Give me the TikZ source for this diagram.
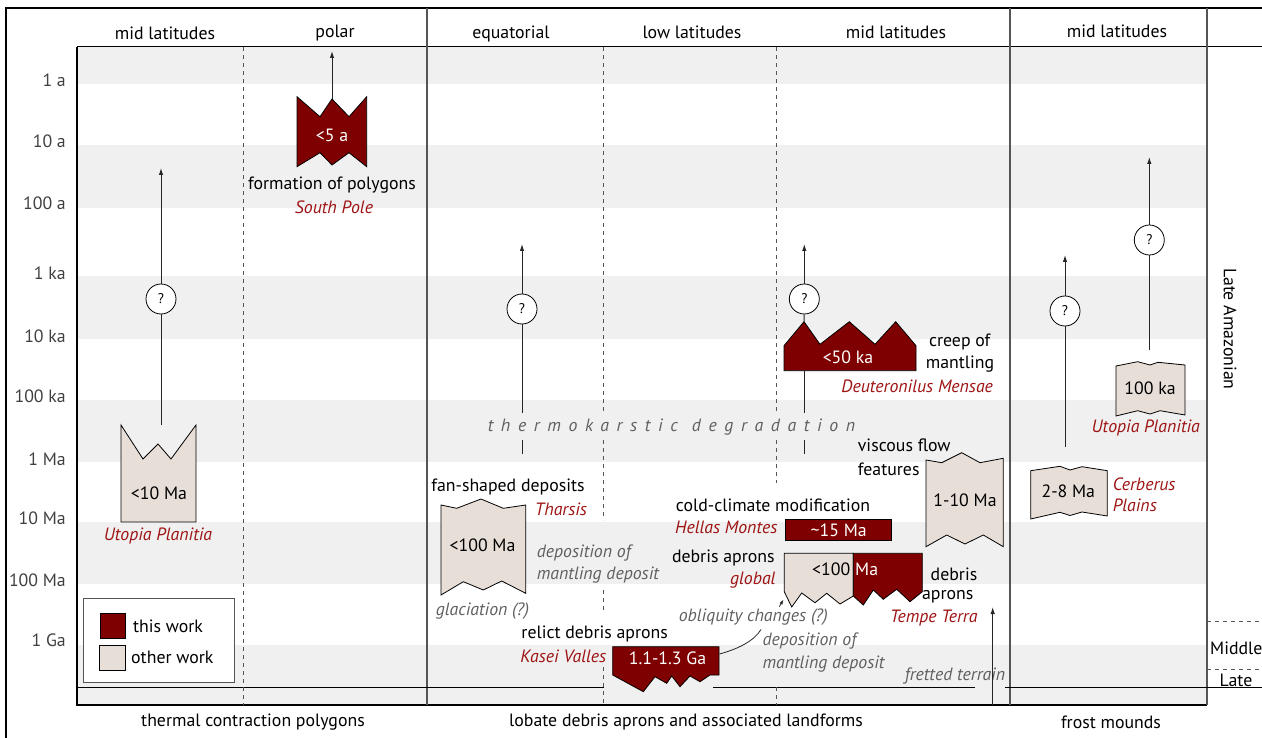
\documentclass[tikz,border=0pt]{standalone}
\usepackage{fontspec}
\setmainfont{PT Sans}
\usetikzlibrary{arrows.meta}
\definecolor{dred}{HTML}{7F0000}
\definecolor{beige}{HTML}{E8DED8}
\definecolor{band}{HTML}{F0F0F0}
\definecolor{lred}{HTML}{9E1414}
\definecolor{gtxt}{HTML}{606060}
\definecolor{atxt}{HTML}{404040}
\definecolor{divc}{HTML}{555555}
\begin{document}
\begin{tikzpicture}[x=1pt,y=-1pt,
  every node/.style={inner sep=0pt, font=\fontsize{17.8}{20}\selectfont},
  loc/.style={text=lred, font=\fontsize{17.8}{20}\selectfont\itshape},
  note/.style={text=gtxt, font=\fontsize{17.8}{20}\selectfont\itshape},
  axl/.style={text=atxt, anchor=east},
  frameline/.style={line width=1.1pt, draw=black},
  divline/.style={line width=1.1pt, draw=divc},
  dashdiv/.style={line width=0.8pt, draw=divc, dash pattern=on 4pt off 4pt},
  thiswork/.style={fill=dred, draw=black, line width=0.8pt},
  otherwork/.style={fill=beige, draw=black, line width=0.8pt},
  wt/.style={text=white},
  arr/.style={draw=black!85, line width=1pt, -{Latex[length=7pt,width=4.5pt]}},
  smallarr/.style={draw=black!85, line width=0.8pt, -{Latex[length=5pt,width=3.5pt]}},
  stem/.style={draw=black!85, line width=1pt},
  qc/.style={circle, draw=black, fill=white, line width=0.8pt, minimum size=30pt, font=\fontsize{14}{16}\selectfont},
]
\useasboundingbox (0,0) rectangle (1262,738);

% bands
\foreach \a/\b in {47/84,145/208,276/339,400/462,522/584,645/705}
  \fill[band] (77,\a) rectangle (1207,\b);

% frame
\draw[frameline] (6,738) -- (6,8) -- (1262,8);
\draw[frameline] (77,46.7) -- (1262,46.7);
\draw[frameline] (77,46.7) -- (77,705) -- (1207,705);
\draw[divline] (427,8) -- (427,705);
\draw[divline] (1010,8) -- (1010,705);
\draw[divline] (1207,8) -- (1207,705);
\draw[frameline, line width=1pt] (77,687.5) -- (604,687.5) (713,687.5) -- (975,687.5) (1005,687.5) -- (1262,687.5);

% dashed dividers
\draw[dashdiv] (243,47) -- (243,705);
\draw[dashdiv] (603.3,47) -- (603.3,413) (603.3,440) -- (603.3,520) (603.3,590) -- (603.3,613) (603.3,667) -- (603.3,705);
\draw[dashdiv] (776,47) -- (776,413) (776,440) -- (776,483) (776,687) -- (776,705);
\draw[dashdiv] (1207,621) -- (1262,621) (1207,669.5) -- (1262,669.5);

% right side labels
\node[anchor=west] (middle) at (1210,648) {Middle};
\node (late) at (1236,680) {Late};
\node[rotate=-90] (lateam) at (1230,329) {Late Amazonian};

% headers
\node (h1) at (165,33) {mid latitudes};
\node (h2) at (335,33) {polar};
\node (h3) at (511,34) {equatorial};
\node (h4) at (692,32) {low latitudes};
\node (h5) at (896,32) {mid latitudes};
\node (h6) at (1117,31) {mid latitudes};

% footers
\node (f1) at (253,722) {thermal contraction polygons};
\node (f2) at (686,722) {lobate debris aprons and associated landforms};
\node (f3) at (1111,722) {frost mounds};

% axis labels
\foreach \t/\y [count=\i] in {1 a/80,10 a/141,100 a/203,1 ka/273,10 ka/336,100 ka/396,1 Ma/459,10 Ma/518,100 Ma/580,1 Ga/640}
  \node[axl] (ax\i) at (66,\y) {\t};

% legend
\draw[divline, line width=0.9pt, fill=white] (83,598) rectangle (234,682);
\path[thiswork] (100,613) rectangle (125,638);
\path[otherwork] (99,645) rectangle (125,670);
\node[anchor=west] (legthis) at (133,626) {this work};
\node[anchor=west] (legother) at (131,657) {other work};

% ---- column 1: thermal contraction polygons, mid latitudes
\path[otherwork] (121,425) -- (143,459) -- (158,444) -- (171,459) -- (196,425) -- (196,522) -- (121,522) -- cycle;
\node (s1) at (159,493) {<10 Ma};
\coordinate (s1top) at (161,425);
\node[qc] (q1) at (161,299) {?};
\coordinate (t1) at (161,168);
\draw[stem] (s1top) -- (q1);
\draw[arr] (q1) -- (t1);
\node[loc] (l1) at (158,536) {Utopia Planitia};

% ---- column 2: polar
\path[thiswork] (297,96.7) -- (320,116.7) -- (332,99) -- (349,116.7) -- (366.7,96.7) -- (366.7,166.7) -- (349,152.7) -- (332,165) -- (320,152.7) -- (297,166.7) -- cycle;
\node[wt] (s2) at (332,135) {<5 a};
\coordinate (s2top) at (332,99);
\coordinate (t2) at (332,51);
\draw[arr] (s2top) -- (t2);
\node (d2) at (332,185) {formation of polygons};
\node[loc] (l2) at (334,207) {South Pole};

% ---- thermokarstic degradation
\node[note] (thermo) at (671.5,427) {\addfontfeatures{LetterSpace=43}thermokarstic\hspace{14pt}degradation};

% ---- column 3: equatorial
\coordinate (b3lo) at (522,454);
\coordinate (b3mi) at (522,440);
\coordinate (b3up) at (522,413);
\node[qc] (q3) at (522,309) {?};
\coordinate (t3) at (522,244);
\draw[stem] (b3lo) -- (b3mi);
\draw[stem] (b3up) -- (q3);
\draw[arr] (q3) -- (t3);

\node (d3) at (508,487) {fan-shaped deposits};
\node[loc] (l3) at (561,509) {Tharsis};
\path[otherwork] (441,505) -- (456.7,508.3) -- (481,499) -- (503.3,508.3) -- (525.7,505) -- (525.7,593.3) -- (501.7,581) -- (483.3,590) -- (463.3,581.7) -- (441,595) -- cycle;
\node (s3) at (482.5,545) {<100 Ma};
\node[note] (g3) at (482.5,611) {glaciation (?)};
\node[note, anchor=west] (dep3a) at (536.7,553) {deposition of};
\node[note, anchor=west] (dep3b) at (536.7,575) {mantling deposit};

% relict debris aprons
\node (d7) at (594.7,634) {relict debris aprons};
\node[loc] (l7) at (563.3,656.5) {Kasei Valles};
\path[thiswork] (612.7,646.7) -- (719,646.7) -- (719,675) -- (710,675) -- (700,681.7) -- (690,676) -- (680,686.7) -- (671.7,676) -- (666.7,683.3) -- (655,676.7) -- (643.3,691.7) -- (612.7,675) -- cycle;
\node[wt] (s7) at (667.5,658.5) {1.1-1.3 Ga};
\coordinate (s7r) at (719.5,654);

% ---- column 5: mid latitudes (lobate)
\node (d6) at (773,505.5) {cold-climate modification};
\node[loc] (l6) at (726.3,527.3) {Hellas Montes};
\path[thiswork] (785.7,519) rectangle (891.7,540);
\node[wt] (s6) at (838.7,530) {\textasciitilde15 Ma};

\node (d8) at (723.3,558.3) {debris aprons};
\node[loc, anchor=east] (l8) at (775.7,580.5) {global};
\path[otherwork] (784.3,553.3) -- (853.3,553.3) -- (853.3,596) -- (840,604) -- (826.7,593.3) -- (815,602.7) -- (801.7,593) -- (791.7,607) -- (784.3,591.7) -- cycle;
\path[thiswork] (853.3,553.3) -- (922.3,553.3) -- (922.3,591.7) -- (910,601.7) -- (896.7,589.3) -- (883.3,599.3) -- (873.3,590) -- (863.3,605) -- (853.3,596) -- cycle;
\node[anchor=east] (s8a) at (850.5,569) {<100};
\node[wt, anchor=west] (s8b) at (855,569) {Ma};
\coordinate (s8c) at (783.5,599.5);

\node[note] (obl) at (753.3,617.3) {obliquity changes (?)};
\coordinate (obl1) at (779.3,606.7);
\coordinate (obl2) at (761,629.5);
\draw[smallarr] (obl1) -- (s8c);
\draw[stem, line width=0.8pt] (s7r) .. controls (738,649) and (754,641) .. (obl2);
\node[note, anchor=west] (dep8a) at (762.3,641) {deposition of};
\node[note, anchor=west] (dep8b) at (762.3,664) {mantling deposit};

\node (d9a) at (954,574.3) {debris};
\node (d9b) at (947.8,596.7) {aprons};
\node[loc] (l9) at (933.7,618.3) {Tempe Terra};
\node[note] (fret) at (955,676) {fretted terrain};
\coordinate (fr0) at (992.7,705);
\coordinate (fr1) at (992.7,607);
\draw[arr] (fr0) -- (fr1);

% viscous flow features
\node[anchor=west] (d10a) at (857.7,445.7) {viscous flow};
\node[anchor=west] (d10b) at (857.7,469) {features};
\path[otherwork] (926,460) -- (941.7,462.7) -- (961.7,452.7) -- (980,462.7) -- (1003.3,458.3) -- (1003.3,546.7) -- (983.3,535) -- (965,544) -- (946.7,535) -- (926,546.7) -- cycle;
\node (s10) at (965,500) {1-10 Ma};

% creep of mantling
\path[thiswork] (784,345.7) -- (804,321.7) -- (820,344.3) -- (849.3,321.7) -- (875,344.3) -- (895.7,321.7) -- (916,345.7) -- (916,370.7) -- (784,370.7) -- cycle;
\node[wt] (s5) at (848,357.7) {<50 ka};
\coordinate (s5top) at (804,321.7);
\coordinate (s5bot) at (804,370.7);
\coordinate (b5up) at (804,413);
\coordinate (b5mi) at (804,440);
\coordinate (b5lo) at (804,454);
\node[qc] (q5) at (804.3,299) {?};
\coordinate (t5) at (804.3,244);
\draw[stem] (s5top) -- (q5);
\draw[arr] (q5) -- (t5);
\draw[stem] (s5bot) -- (b5up);
\draw[stem] (b5mi) -- (b5lo);
\node (d5a) at (959.7,342.3) {creep of};
\node (d5b) at (960,364) {mantling};
\node[loc] (l5) at (917.2,386.7) {Deuteronilus Mensae};

% ---- column 6: frost mounds
\path[otherwork] (1030.7,470.7) -- (1060,466.3) -- (1070,470) -- (1082,466.7) -- (1107.3,470.7) -- (1107.3,516) -- (1082,512) -- (1070,515.5) -- (1060,512.3) -- (1030.7,519) -- cycle;
\node (s11) at (1068.3,491.7) {2-8 Ma};
\node[loc, anchor=west] (l11a) at (1112.7,484) {Cerberus};
\node[loc, anchor=west] (l11b) at (1112.7,505.7) {Plains};
\coordinate (s11top) at (1065,447.3);
\node[qc] (q11) at (1065,311) {?};
\coordinate (t11) at (1065,255);
\draw[stem] (s11top) -- (q11);
\draw[arr] (q11) -- (t11);

\path[otherwork] (1116,366) -- (1137.7,361.7) -- (1150,365) -- (1158,362.3) -- (1185,365) -- (1185,415) -- (1160,410.7) -- (1150,414) -- (1137.7,410.7) -- (1116,416) -- cycle;
\node (s12) at (1150,388.3) {100 ka};
\node[loc] (l12) at (1145.8,428.3) {Utopia Planitia};
\coordinate (s12top) at (1149.3,350);
\node[qc] (q12) at (1149.3,240) {?};
\coordinate (t12) at (1149.3,157);
\draw[stem] (s12top) -- (q12);
\draw[arr] (q12) -- (t12);
\end{tikzpicture}
\end{document}
